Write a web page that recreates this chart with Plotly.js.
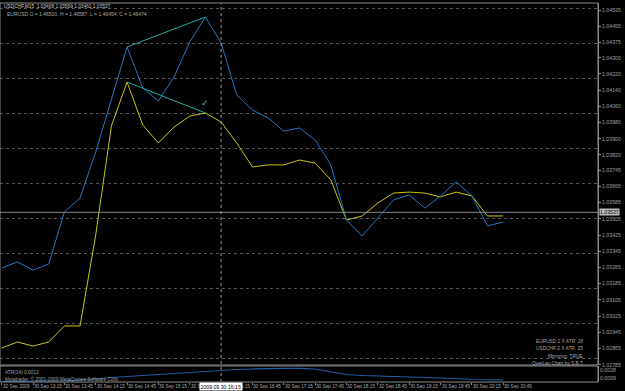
<!DOCTYPE html>
<html><head><meta charset="utf-8">
<script src="https://cdn.plot.ly/plotly-3.0.1.min.js"></script>
<style>html,body{margin:0;padding:0;background:#000;overflow:hidden}#chart{width:625px;height:391px}</style>
</head><body><div id="chart"></div>
<script>
// ---- data ----
const times = ["12:45","13:00","13:15","13:30","13:45","14:00","14:15","14:30","14:45","15:00","15:15","15:30","15:45","16:00","16:15","16:30","16:45","17:00","17:15","17:30","17:45","18:00","18:15","18:30","18:45","19:00","19:15","19:30","19:45","20:00","20:15","20:30","20:45"];
const usdchf = [1.03262,1.03292,1.03252,1.03282,1.03539,1.03608,1.03835,1.04091,1.04353,1.04151,1.04086,1.04205,1.04378,1.04501,1.04373,1.04116,1.04042,1.04003,1.03938,1.03953,1.03894,1.03771,1.03499,1.03420,1.03509,1.03598,1.03623,1.03558,1.03618,1.03687,1.03618,1.03470,1.03489];
const eurusdOverlay = [1.02867,1.02897,1.02877,1.02897,1.02976,1.02976,1.03425,1.03963,1.04180,1.03968,1.03879,1.03958,1.04012,1.04027,1.03983,1.03879,1.03761,1.03771,1.03771,1.03795,1.03780,1.03697,1.03499,1.03519,1.03583,1.03632,1.03637,1.03632,1.03613,1.03637,1.03618,1.03519,1.03519];
const atr14 = [0.00007,0.00007,0.00007,0.00012,0.00019,0.00043,0.00078,0.00102,0.00126,0.00149,0.00173,0.00197,0.00233,0.00256,0.00268,0.00292,0.00304,0.00316,0.00320,0.00320,0.00304,0.00233,0.00173,0.00149,0.00138,0.00126,0.00114,0.00102,0.00090,0.00078,0.00054,0.00043,0.00043];
const trendTopX = ["14:45","16:00"], trendTopY = [1.04353,1.04501];
const trendLowX = ["14:45","16:00"], trendLowY = [1.04180,1.04027];
const checkX = "16:00", checkY = 1.04077;
const tickTimes = ["12:45","13:15","13:45","14:15","14:45","15:15","15:45","16:15","16:45","17:15","17:45","18:15","18:45","19:15","19:45","20:15","20:45"];
const tickLabels = ["30 Sep 2009","30 Sep 13:15","30 Sep 13:45","30 Sep 14:15","30 Sep 14:45","30 Sep 15:15","30 Sep 15:45","30 Sep 16:15","30 Sep 16:45","30 Sep 17:15","30 Sep 17:45","30 Sep 18:15","30 Sep 18:45","30 Sep 19:15","30 Sep 19:45","30 Sep 20:15","30 Sep 20:45"];
const priceTicks = [1.04535,1.04455,1.04375,1.04300,1.04220,1.04140,1.04060,1.03980,1.03900,1.03820,1.03745,1.03665,1.03585,1.03505,1.03425,1.03345,1.03265,1.03185,1.03105,1.03025,1.02945,1.02865,1.02785];
const priceTickText = ["1.04535","1.04455","1.04375","1.04300","1.04220","1.04140","1.04060","1.03980","1.03900","1.03820","1.03745","1.03665","1.03585","1.03505","1.03425","1.03345","1.03265","1.03185","1.03105","1.03025","1.02945","1.02865","1.02785"];
const atrTicks = [0.0028,0.0009], atrTickText = ["0.0028","0.0009"];
const headerLine1 = "USDCHF,M15  1.03468 1.03569 1.03461 1.03537";
const headerLine2 = "EURUSD O = 1.46500, H = 1.46587, L = 1.46454, C = 1.46474";
const lastClose = 1.03537, lastCloseText = "1.03537";
const cursorTime = "16:15", cursorText = "2009.09.30 16:15";
const infoLines = ["EURUSD 2 X ATR: 28","USDCHF 2 X ATR: 25","Mirroring: TRUE","OverLay Chart by S.B.T"];
const atrLabel = "ATR(14) 0.0013";
const copyright = "Metatrader, \u00a9 2001-2009 MetaQuotes Software Corp.";

// ---- layout helpers (pixel -> paper) ----
const PW = 598, PT = 3, PB = 382, PH = PB - PT;
const px = x => x / PW;
const py = y => (PB - y) / PH;
const F = "Liberation Sans, Arial, sans-serif";
const gray = "#8c8c8c";

const traces = [
  {x: times, y: eurusdOverlay, type: "scatter", mode: "lines", line: {color: "#c8c814", width: 1}, xaxis: "x", yaxis: "y", hoverinfo: "skip"},
  {x: times, y: usdchf, type: "scatter", mode: "lines", line: {color: "#2478c4", width: 1}, xaxis: "x", yaxis: "y", hoverinfo: "skip"},
  {x: trendTopX, y: trendTopY, type: "scatter", mode: "lines", line: {color: "#22b0a0", width: 1}, xaxis: "x", yaxis: "y", hoverinfo: "skip"},
  {x: trendLowX, y: trendLowY, type: "scatter", mode: "lines", line: {color: "#22b0a0", width: 1}, xaxis: "x", yaxis: "y", hoverinfo: "skip"},
  {x: times, y: atr14, type: "scatter", mode: "lines", line: {color: "#1e5ca8", width: 1.2}, xaxis: "x", yaxis: "y2", hoverinfo: "skip"}
];

const txt = (text, x, y, xanchor, color, size) => ({
  text: text, x: px(x), y: py(y), xref: "paper", yref: "paper", xanchor: xanchor || "left", yanchor: "middle",
  showarrow: false, font: {family: F, size: size || 4.8, color: color || "#b0b0b0"}
});

const annotations = [
  txt(headerLine1, 2, 6, "left", "#c8c8c8", 4.8),
  txt(headerLine2, 5, 13.5, "left", "#a8a8a8", 5.0),
  txt(infoLines[0], 585, 341, "right", "#a8a8a8"),
  txt(infoLines[1], 585, 348.5, "right", "#a8a8a8"),
  txt(infoLines[2], 585, 356, "right", "#a8a8a8"),
  txt(infoLines[3], 585, 363, "right", "#a8a8a8"),
  txt(atrLabel, 3, 372, "left", "#a0a0a0", 4.8),
  txt(copyright, 3, 379, "left", "#a0a0a0", 4.8)
];
// x-axis labels, MetaTrader style (left-aligned at the bar)
tickTimes.forEach((t, k) => annotations.push({
  text: tickLabels[k], x: t, xref: "x", y: py(386), yref: "paper", xanchor: "left", yanchor: "middle", xshift: -1,
  showarrow: false, font: {family: F, size: 4.7, color: "#a8a8a8"}
}));
annotations.push(
  {text: lastCloseText, x: 1, xref: "paper", y: lastClose, yref: "y", xanchor: "left", yanchor: "middle", xshift: 1,
   showarrow: false, bgcolor: "#bcbcbc", borderpad: 0, font: {family: F, size: 5.2, color: "#000"}},
  {text: cursorText, x: cursorTime, xref: "x", y: py(386), yref: "paper", xanchor: "center", yanchor: "middle",
   showarrow: false, bgcolor: "#ffffff", borderpad: 0.5, font: {family: F, size: 5.2, color: "#000"}},
  {text: "\u2713", x: checkX, xref: "x", y: checkY, yref: "y", showarrow: false, font: {family: "DejaVu Sans", size: 9, color: "#3cc8b4"}}
);

const shapes = [
  {type: "line", xref: "paper", yref: "y", x0: 0, x1: 1, y0: lastClose, y1: lastClose, line: {color: "#8a8a8a", width: 1}},
  {type: "line", xref: "x", yref: "paper", x0: cursorTime, x1: cursorTime, y0: 0, y1: 1, line: {color: "#9a9a9a", width: 1, dash: "dot"}},
  {type: "rect", xref: "paper", yref: "paper", x0: 0, x1: 1, y0: py(365), y1: 1, line: {color: gray, width: 1}},
  {type: "rect", xref: "paper", yref: "paper", x0: 0, x1: 1, y0: 0, y1: py(366), line: {color: gray, width: 1}}
];

const layout = {
  width: 625, height: 391,
  margin: {l: 0, r: 27, t: PT, b: 391 - PB},
  paper_bgcolor: "#000", plot_bgcolor: "#000",
  showlegend: false,
  font: {family: F, size: 5, color: "#a0a0a0"},
  xaxis: {
    type: "category", anchor: "y2", range: [-0.1085, 38.05],
    tickmode: "array", tickvals: tickTimes, showticklabels: false,
    ticks: "outside", ticklen: 2, tickcolor: gray, showgrid: false, zeroline: false, showline: false
  },
  yaxis: {
    domain: [py(365), 1], range: [1.027835, 1.0457], side: "right", anchor: "x",
    tickmode: "array", tickvals: priceTicks, ticktext: priceTickText,
    ticks: "outside", ticklen: 2, tickcolor: gray, showgrid: false, zeroline: false,
    showline: true, linecolor: gray, tickfont: {family: F, size: 5.2, color: "#a0a0a0"},
    minor: {tick0: 1.04544, dtick: 0.0017273, showgrid: true, gridcolor: "#555555", griddash: "dot", gridwidth: 1, ticks: ""}
  },
  yaxis2: {
    domain: [0, py(366)], range: [-0.00005, 0.00375], side: "right", anchor: "x",
    tickmode: "array", tickvals: atrTicks, ticktext: atrTickText,
    ticks: "", showgrid: false, zeroline: false, showline: true, linecolor: gray,
    tickfont: {family: F, size: 5.2, color: "#a0a0a0"}
  },
  annotations: annotations,
  shapes: shapes
};

Plotly.newPlot("chart", traces, layout, {staticPlot: true, displayModeBar: false});
</script>
</body></html>
